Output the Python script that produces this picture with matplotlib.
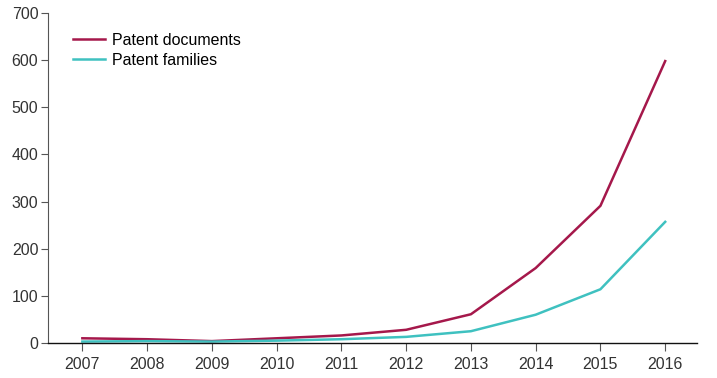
import matplotlib
matplotlib.use("Agg")
import matplotlib.pyplot as plt

years = [2007, 2008, 2009, 2010, 2011, 2012, 2013, 2014, 2015, 2016]
patent_documents = [10, 8, 4, 10, 16, 28, 61, 159, 291, 598]
patent_families = [3, 4, 3, 5, 8, 13, 25, 60, 114, 257]
y_ticks = [0, 100, 200, 300, 400, 500, 600, 700]

plt.rcParams["font.family"] = ["Liberation Sans", "DejaVu Sans"]

fig = plt.figure(figsize=(7.17, 3.78), dpi=100)
ax = fig.add_axes([0.067, 0.0926, 0.905, 0.873])

ax.plot(years, patent_documents, color="#a5184b", linewidth=1.8, label="Patent documents")
ax.plot(years, patent_families, color="#3fc1c0", linewidth=1.8, label="Patent families")

ax.set_xlim(2006.47, 2016.49)
ax.set_ylim(0, 700)
ax.set_xticks(years)
ax.set_yticks(y_ticks)

for side in ["top", "right"]:
    ax.spines[side].set_visible(False)
ax.spines["left"].set_color("#555555")
ax.spines["left"].set_linewidth(0.8)
ax.spines["bottom"].set_color("#111111")
ax.spines["bottom"].set_linewidth(1.0)

ax.tick_params(axis="y", length=5, width=0.8, color="#555555", labelsize=11.5,
               labelcolor="#333333", pad=2)
ax.tick_params(axis="x", length=6, width=0.8, color="#555555", labelsize=11.5,
               labelcolor="#333333", pad=4)

ax.legend(loc="upper left", bbox_to_anchor=(0.038, 0.94), frameon=False,
          fontsize=11.5, handlelength=2.0, handletextpad=0.45, labelspacing=0.3,
          borderaxespad=0, borderpad=0)

fig.savefig("out.png", dpi=100)
